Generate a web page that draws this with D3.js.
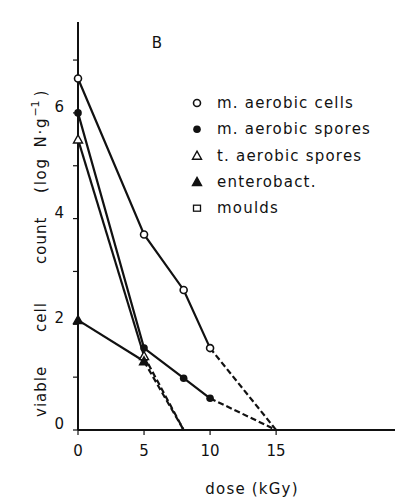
<!DOCTYPE html>
<html><head><meta charset="utf-8">
<script src="https://cdn.jsdelivr.net/npm/d3@7"></script>
<style>body{margin:0;background:#fff}svg{display:block}text{font-family:"DejaVu Sans",sans-serif;fill:#111}</style>
</head><body><svg id="c" width="395" height="502"></svg>
<script>
const doses = [0, 5, 8, 10];
const aerobicCells = [6.65, 3.7, 2.65, 1.55];
const aerobicSpores = [6.0, 1.55, 0.98, 0.6];
const tDoses = [0, 5];
const tAerobicSpores = [5.5, 1.4];
const enterobact = [2.08, 1.3];
const extrapCells = [[10, 1.55], [15, 0]];
const extrapSpores = [[10, 0.6], [15, 0]];
const extrapT = [[5, 1.4], [8, 0]];
const extrapE = [[5, 1.3], [8, 0]];
const xTicks = [0, 5, 10, 15];
const yMajor = [0, 2, 4, 6];
const yMinor = [1, 3, 5, 7];
const legendLabels = ["m. aerobic cells", "m. aerobic spores", "t. aerobic spores", "enterobact.", "moulds"];
const legendMarks = ["ocircle", "fcircle", "otri", "ftri", "osquare"];
const yTitleWords = ["viable", "cell", "count", "(log N·g"];

const svg = d3.select("#c");
const x = d3.scaleLinear().domain([0, 24]).range([78, 395]);
const y = d3.scaleLinear().domain([0, 7.72]).range([430, 22]);
const ink = "#111";

// axes
svg.append("line").attr("x1", x(0)).attr("x2", x(24)).attr("y1", y(0)).attr("y2", y(0)).attr("stroke", ink).attr("stroke-width", 2);
svg.append("line").attr("x1", x(0)).attr("x2", x(0)).attr("y1", y(0)).attr("y2", y(7.72)).attr("stroke", ink).attr("stroke-width", 2);
xTicks.forEach(t => {
  svg.append("line").attr("x1", x(t)).attr("x2", x(t)).attr("y1", y(0)).attr("y2", y(0) + 5).attr("stroke", ink).attr("stroke-width", 1.2);
  svg.append("text").attr("x", x(t)).attr("y", y(0) + 26).attr("text-anchor", "middle").attr("font-size", 15).text(t);
});
yMajor.forEach(t => {
  svg.append("line").attr("x1", x(0) - 5).attr("x2", x(0)).attr("y1", y(t)).attr("y2", y(t)).attr("stroke", ink).attr("stroke-width", 1.2);
  svg.append("text").attr("x", x(0) - 14).attr("y", y(t) - 1).attr("text-anchor", "end").attr("font-size", 15).text(t);
});
yMinor.forEach(t => {
  svg.append("line").attr("x1", x(0) - 5).attr("x2", x(0)).attr("y1", y(t)).attr("y2", y(t)).attr("stroke", ink).attr("stroke-width", 1.2);
});

const line = d3.line().x(d => x(d[0])).y(d => y(d[1]));
function solid(xs, ys) {
  svg.append("path").attr("d", line(xs.map((d, i) => [d, ys[i]]))).attr("fill", "none").attr("stroke", ink).attr("stroke-width", 2.2);
}
function dashed(pts) {
  svg.append("path").attr("d", line(pts)).attr("fill", "none").attr("stroke", ink).attr("stroke-width", 2.2).attr("stroke-dasharray", "6,3");
}
solid(doses, aerobicCells);
solid(doses, aerobicSpores);
solid(tDoses, tAerobicSpores);
solid(tDoses, enterobact);
dashed(extrapCells); dashed(extrapSpores); dashed(extrapT); dashed(extrapE);

function marker(kind, cx, cy) {
  if (kind === "ocircle") svg.append("circle").attr("cx", cx).attr("cy", cy).attr("r", 3.5).attr("fill", "#fff").attr("stroke", ink).attr("stroke-width", 1.6);
  else if (kind === "fcircle") svg.append("circle").attr("cx", cx).attr("cy", cy).attr("r", 3.8).attr("fill", ink);
  else if (kind === "otri" || kind === "ftri") {
    const s = 4.5;
    svg.append("path").attr("d", `M${cx},${cy - s}L${cx + s},${cy + s * 0.8}L${cx - s},${cy + s * 0.8}Z`)
      .attr("fill", kind === "ftri" ? ink : "#fff").attr("stroke", ink).attr("stroke-width", 1.4);
  } else if (kind === "osquare") svg.append("rect").attr("x", cx - 3.5).attr("y", cy - 3).attr("width", 7).attr("height", 6).attr("fill", "#fff").attr("stroke", ink).attr("stroke-width", 1.3);
}
doses.forEach((d, i) => marker("ocircle", x(d), y(aerobicCells[i])));
doses.forEach((d, i) => marker("fcircle", x(d), y(aerobicSpores[i])));
tDoses.forEach((d, i) => marker("otri", x(d), y(tAerobicSpores[i])));
tDoses.forEach((d, i) => marker("ftri", x(d), y(enterobact[i])));

// legend
legendLabels.forEach((l, i) => {
  const yy = 103 + i * 26.3;
  marker(legendMarks[i], 197, yy);
  svg.append("text").attr("x", 217).attr("y", yy + 5).attr("font-size", 15).attr("letter-spacing", "1.2px").text(l);
});

svg.append("text").attr("x", 157).attr("y", 48).attr("text-anchor", "middle").attr("font-size", 15).text("B");
svg.append("text").attr("x", 252).attr("y", 494).attr("text-anchor", "middle").attr("font-size", 15).attr("letter-spacing", "1.2px").text("dose (kGy)");

// y title, word by word (rotated)
const yStarts = [417, 332, 264, 193];
const yg = svg.append("g").attr("transform", "translate(46,0) rotate(-90)");
yTitleWords.forEach((w, i) => {
  const t = yg.append("text").attr("x", -yStarts[i]).attr("y", 0).attr("font-size", 15).attr("letter-spacing", i === 3 ? "1.8px" : "1px").attr("word-spacing", "3px").text(w);
  if (i === 3) {
    t.append("tspan").attr("dy", -7).attr("font-size", 11).attr("letter-spacing", "0px").text("−1");
    t.append("tspan").attr("dy", 7).attr("dx", 4).text(")");
  }
});
</script></body></html>
